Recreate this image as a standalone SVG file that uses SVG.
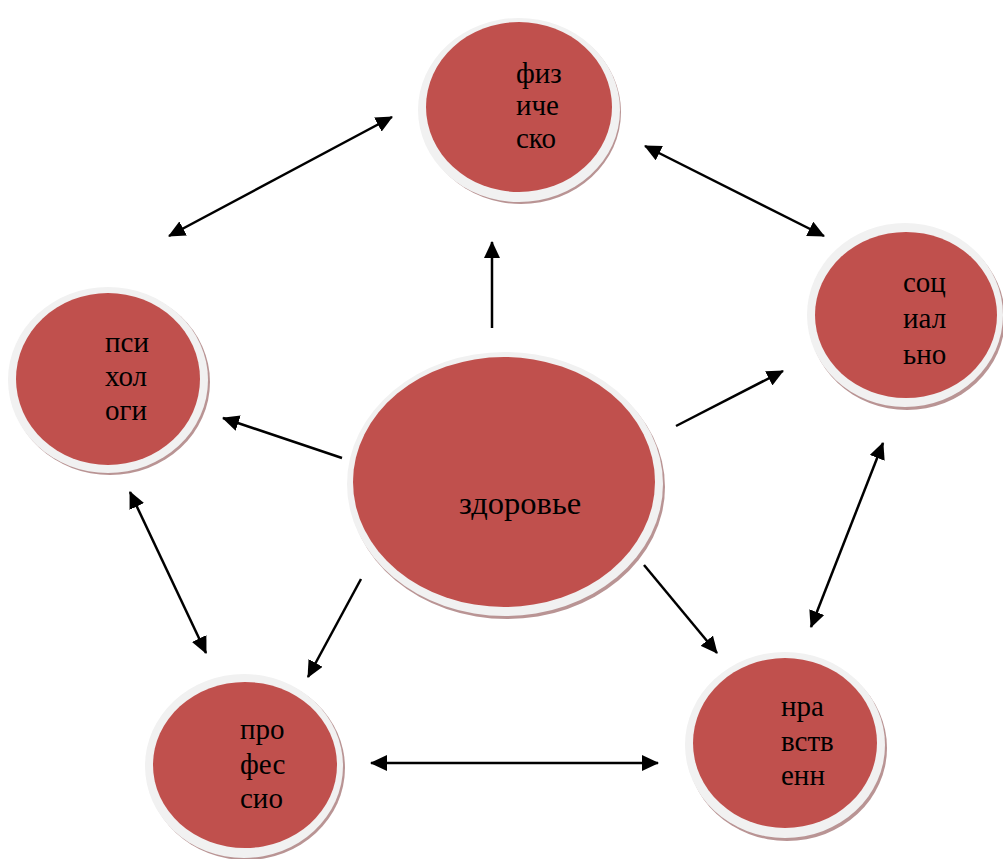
<svg xmlns="http://www.w3.org/2000/svg" width="1003" height="859" viewBox="0 0 1003 859">
<style>
.shadow{fill:#b99494}
.rim{fill:#f1f1f1}
.core{fill:#c0504d}
.lbl{font-family:"Liberation Serif","Times New Roman",serif;font-size:29px;fill:#000}
.big{font-size:32.5px}
.conn{stroke:#000;stroke-width:2.5;fill:none}
</style>
<defs>
<marker id="ah" markerUnits="userSpaceOnUse" markerWidth="18" markerHeight="16" refX="16" refY="8" orient="auto-start-reverse">
<path d="M0,0 L17,8 L0,16 z" fill="#000"/>
</marker>
</defs>
<rect width="1003" height="859" fill="#fff"/>
<g id="connectors">
<line class="conn" x1="169" y1="236" x2="392" y2="117" marker-start="url(#ah)" marker-end="url(#ah)"/>
<line class="conn" x1="645" y1="146" x2="824" y2="236" marker-start="url(#ah)" marker-end="url(#ah)"/>
<line class="conn" x1="492" y1="328" x2="492" y2="242" marker-end="url(#ah)"/>
<line class="conn" x1="342" y1="458" x2="223" y2="418" marker-end="url(#ah)"/>
<line class="conn" x1="676" y1="426" x2="783" y2="371" marker-end="url(#ah)"/>
<line class="conn" x1="361" y1="579" x2="308" y2="677" marker-end="url(#ah)"/>
<line class="conn" x1="644" y1="565" x2="717" y2="653" marker-end="url(#ah)"/>
<line class="conn" x1="130" y1="492" x2="206" y2="653" marker-start="url(#ah)" marker-end="url(#ah)"/>
<line class="conn" x1="883" y1="443" x2="811" y2="627" marker-start="url(#ah)" marker-end="url(#ah)"/>
<line class="conn" x1="371" y1="763" x2="658" y2="763" marker-start="url(#ah)" marker-end="url(#ah)"/>
</g>
<g id="node-zdorovie">
<ellipse class="shadow" cx="507" cy="487" rx="158" ry="132"/>
<ellipse class="rim" cx="505" cy="484" rx="158" ry="132"/>
<ellipse class="core" cx="504" cy="482" rx="151" ry="125"/>
<text class="lbl big" x="459" y="514">здоровье</text>
</g>
<g id="node-fizichesko">
<ellipse class="shadow" cx="521" cy="112" rx="100" ry="92"/>
<ellipse class="rim" cx="519" cy="110" rx="101" ry="92"/>
<ellipse class="core" cx="519" cy="107" rx="93" ry="85"/>
<text class="lbl" x="516" y="83">физ</text>
<text class="lbl" x="516" y="115">иче</text>
<text class="lbl" x="516" y="148">ско</text>
</g>
<g id="node-psihologi">
<ellipse class="shadow" cx="110" cy="382" rx="100" ry="93"/>
<ellipse class="rim" cx="108" cy="380" rx="100" ry="93"/>
<ellipse class="core" cx="108" cy="379" rx="92" ry="86"/>
<text class="lbl" x="105" y="352">пси</text>
<text class="lbl" x="105" y="386">хол</text>
<text class="lbl" x="105" y="420">оги</text>
</g>
<g id="node-socialno">
<ellipse class="shadow" cx="907" cy="318" rx="98" ry="92"/>
<ellipse class="rim" cx="905" cy="315" rx="98" ry="92"/>
<ellipse class="core" cx="906" cy="315" rx="91" ry="83"/>
<text class="lbl" x="903" y="292">соц</text>
<text class="lbl" x="903" y="328">иал</text>
<text class="lbl" x="903" y="364">ьно</text>
</g>
<g id="node-professio">
<ellipse class="shadow" cx="246" cy="768" rx="99" ry="92"/>
<ellipse class="rim" cx="244" cy="766" rx="99" ry="92"/>
<ellipse class="core" cx="245" cy="765" rx="92" ry="83"/>
<text class="lbl" x="240" y="739">про</text>
<text class="lbl" x="240" y="774">фес</text>
<text class="lbl" x="240" y="808">сио</text>
</g>
<g id="node-nravstvenn">
<ellipse class="shadow" cx="787" cy="748" rx="100" ry="93"/>
<ellipse class="rim" cx="785" cy="745" rx="100" ry="93"/>
<ellipse class="core" cx="785" cy="743" rx="92" ry="85"/>
<text class="lbl" x="781" y="716">нра</text>
<text class="lbl" x="781" y="751">вств</text>
<text class="lbl" x="781" y="785">енн</text>
</g>
</svg>
